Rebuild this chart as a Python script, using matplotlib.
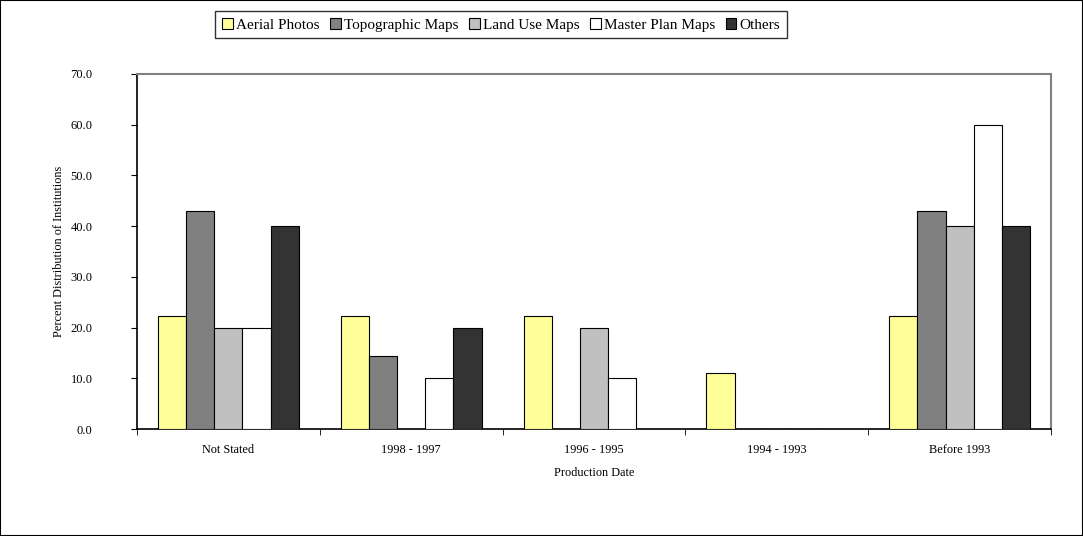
import matplotlib
matplotlib.use("Agg")
import matplotlib.pyplot as plt
import numpy as np
from matplotlib.patches import Rectangle

categories = ["Not Stated", "1998 - 1997", "1996 - 1995", "1994 - 1993", "Before 1993"]
series_names = ["Aerial Photos", "Topographic Maps", "Land Use Maps", "Master Plan Maps", "Others"]
aerial = [22.2, 22.2, 22.2, 11.1, 22.2]
topographic = [42.9, 14.3, 0.0, 0.0, 42.9]
land_use = [20.0, 0.0, 20.0, 0.0, 40.0]
master_plan = [20.0, 10.0, 10.0, 0.0, 60.0]
others = [40.0, 20.0, 0.0, 0.0, 40.0]
y_ticks = [0, 10, 20, 30, 40, 50, 60, 70]

series = [aerial, topographic, land_use, master_plan, others]
colors = ["#FFFF99", "#808080", "#C0C0C0", "#FFFFFF", "#333333"]

plt.rcParams['font.family'] = ['Liberation Serif', 'DejaVu Serif']

fig = plt.figure(figsize=(10.83, 5.36), dpi=100)
ax = fig.add_axes([137/1083, 1 - 429/536, (1051-137)/1083, (429-74)/536])

n = len(series)
w = 1 / 6.5
x = np.arange(len(categories))
handles = []
for i, (vals, c, name) in enumerate(zip(series, colors, series_names)):
    offs = (i - (n - 1) / 2) * w
    b = ax.bar(x + offs, vals, width=w, color=c, edgecolor="#000000", linewidth=0.8,
               label=name, zorder=3)
    handles.append(b)

ax.set_xlim(-0.5, len(categories) - 0.5)
ax.set_ylim(0, 70)
ax.set_yticks(y_ticks)
ax.set_yticklabels([f"{v:.1f}" for v in y_ticks], fontsize=9)
ax.set_xticks(x)
ax.set_xticklabels(categories, fontsize=8.8)
ax.tick_params(axis='x', length=0, pad=11)
ax.set_xticks(np.arange(-0.5, len(categories) + 0.5, 1), minor=True)
ax.tick_params(axis='x', which='minor', length=4, direction='out', color='black')
ax.tick_params(axis='y', length=4, direction='out', color='black', pad=28)

for side in ['top', 'right']:
    ax.spines[side].set_color('#808080')
    ax.spines[side].set_linewidth(1.5)
for side in ['left', 'bottom']:
    ax.spines[side].set_color('#000000')
    ax.spines[side].set_linewidth(1.2)

ax.set_ylabel("Percent Distribution of Institutions", fontsize=8.8, labelpad=4)
ax.set_xlabel("Production Date", fontsize=8.8, labelpad=8)

leg = fig.legend(handles=handles, labels=series_names, loc='upper center',
                 bbox_to_anchor=(501/1083, 1 - 11/536), ncol=5, fontsize=11,
                 frameon=True, fancybox=False, edgecolor='black',
                 handlelength=0.7, handleheight=0.7, handletextpad=0.2,
                 columnspacing=0.7, borderpad=0.45, borderaxespad=0)
leg.get_frame().set_linewidth(1.0)

fig.patches.append(Rectangle((0, 0), 1, 1, transform=fig.transFigure, fill=False,
                             edgecolor='black', linewidth=1.5))

fig.savefig("out.png", dpi=100)
